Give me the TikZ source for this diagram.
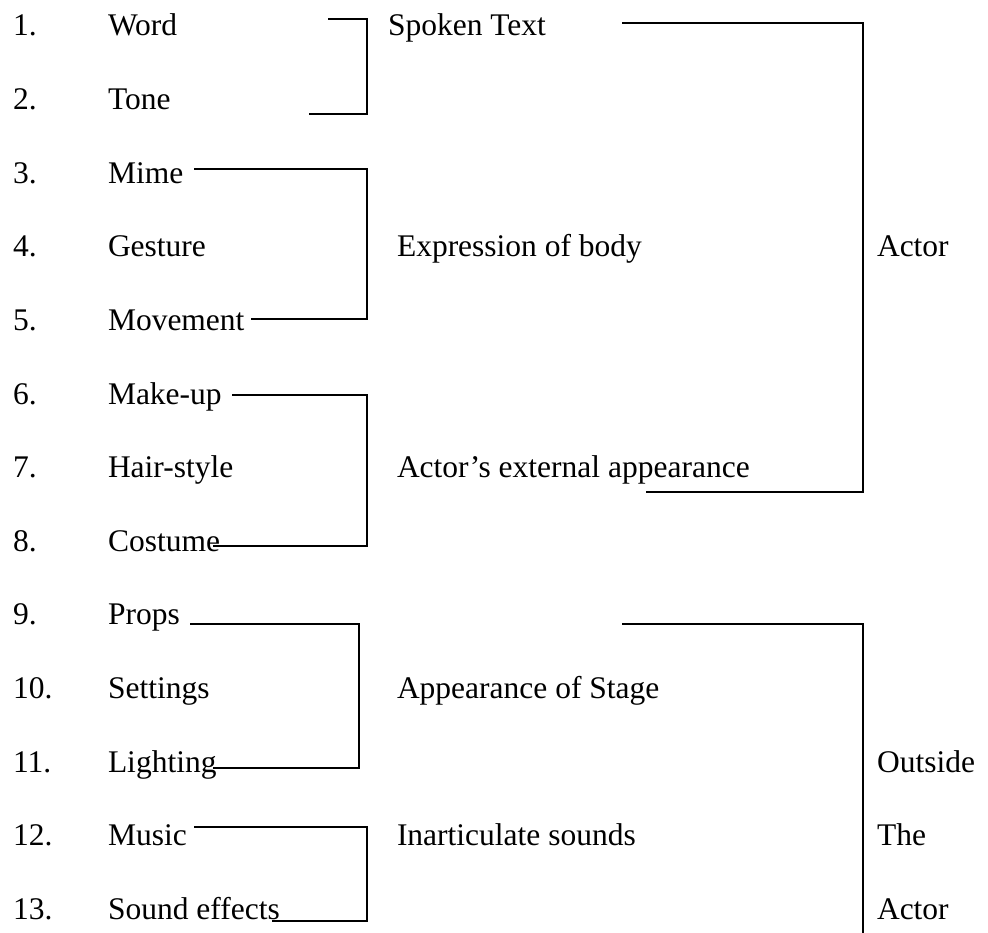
\documentclass[tikz,border=0pt]{standalone}
\usepackage{fontspec}
\setmainfont{Liberation Serif}
\usepackage{tikz}
\usetikzlibrary{positioning}

\begin{document}
\begin{tikzpicture}[
        x=1pt, y=-1pt,
        font=\fontsize{31.5}{37}\selectfont,
        every node/.style={inner sep=0pt, outer sep=0pt},
        % ============= Estilos =============
        numlabel/.style={anchor=base west},
        itemlabel/.style={anchor=base west},
        grouplabel/.style={anchor=base west},
        bracketline/.style={draw=black, line width=1.9pt}
    ]
        \useasboundingbox (0,0) rectangle (988,933);

        % ===== Lista numerada (línea base: 36 + (i-1)*73.6) =====
        \foreach \i/\item in {%
            1/Word, 2/Tone, 3/Mime, 4/Gesture, 5/Movement, 6/Make-up,
            7/Hair-style, 8/Costume, 9/Props, 10/Settings, 11/Lighting,
            12/Music, 13/Sound effects%
        }{
            \node[numlabel] (n\i) at (13, {36+(\i-1)*73.6}) {\i.};
            \node[itemlabel] (it\i) at (108, {36+(\i-1)*73.6}) {\item};
        }

        % ===== Grupos =====
        \node[grouplabel] (spoken) at (388, 36)    {Spoken Text};
        \node[grouplabel] (body)   at (397, 256.8) {Expression of body};
        \node[grouplabel] (extapp) at (397, 477.6) {Actor’s external appearance};
        \node[grouplabel] (stage)  at (397, 698.4) {Appearance of Stage};
        \node[grouplabel] (sounds) at (397, 845.6) {Inarticulate sounds};

        \node[grouplabel] (actor)   at (877, 256.8) {Actor};
        \node[grouplabel] (outside) at (877, 772.0) {Outside};
        \node[grouplabel] (outthe)  at (877, 845.6) {The};
        \node[grouplabel] (outact)  at (877, 919.2) {Actor};

        % ===== Corchetes =====
        % nombre / x inicio arriba / y arriba / x vertical / y abajo / x fin abajo
        \foreach \b/\xa/\ya/\xv/\yb/\xe in {%
            word/328/19/367/114/309,
            mime/194/169/367/319/251,
            makeup/232/395/367/546/213,
            props/190/624/359/768/213,
            music/194/827/367/921/272,
            actorbr/622/23/863/492/646%
        }{
            \coordinate (\b top) at (\xa,\ya);
            \coordinate (\b corner) at (\xv,\yb);
            \coordinate (\b end) at (\xe,\yb);
            \draw[bracketline] (\b top) -| (\b corner) -- (\b end);
        }

        % ===== Corchete abierto hacia abajo =====
        \coordinate (outbr top) at (622,624);
        \coordinate (outbr end) at (863,933);
        \draw[bracketline] (outbr top) -| (outbr end);
    \end{tikzpicture}
\end{document}
